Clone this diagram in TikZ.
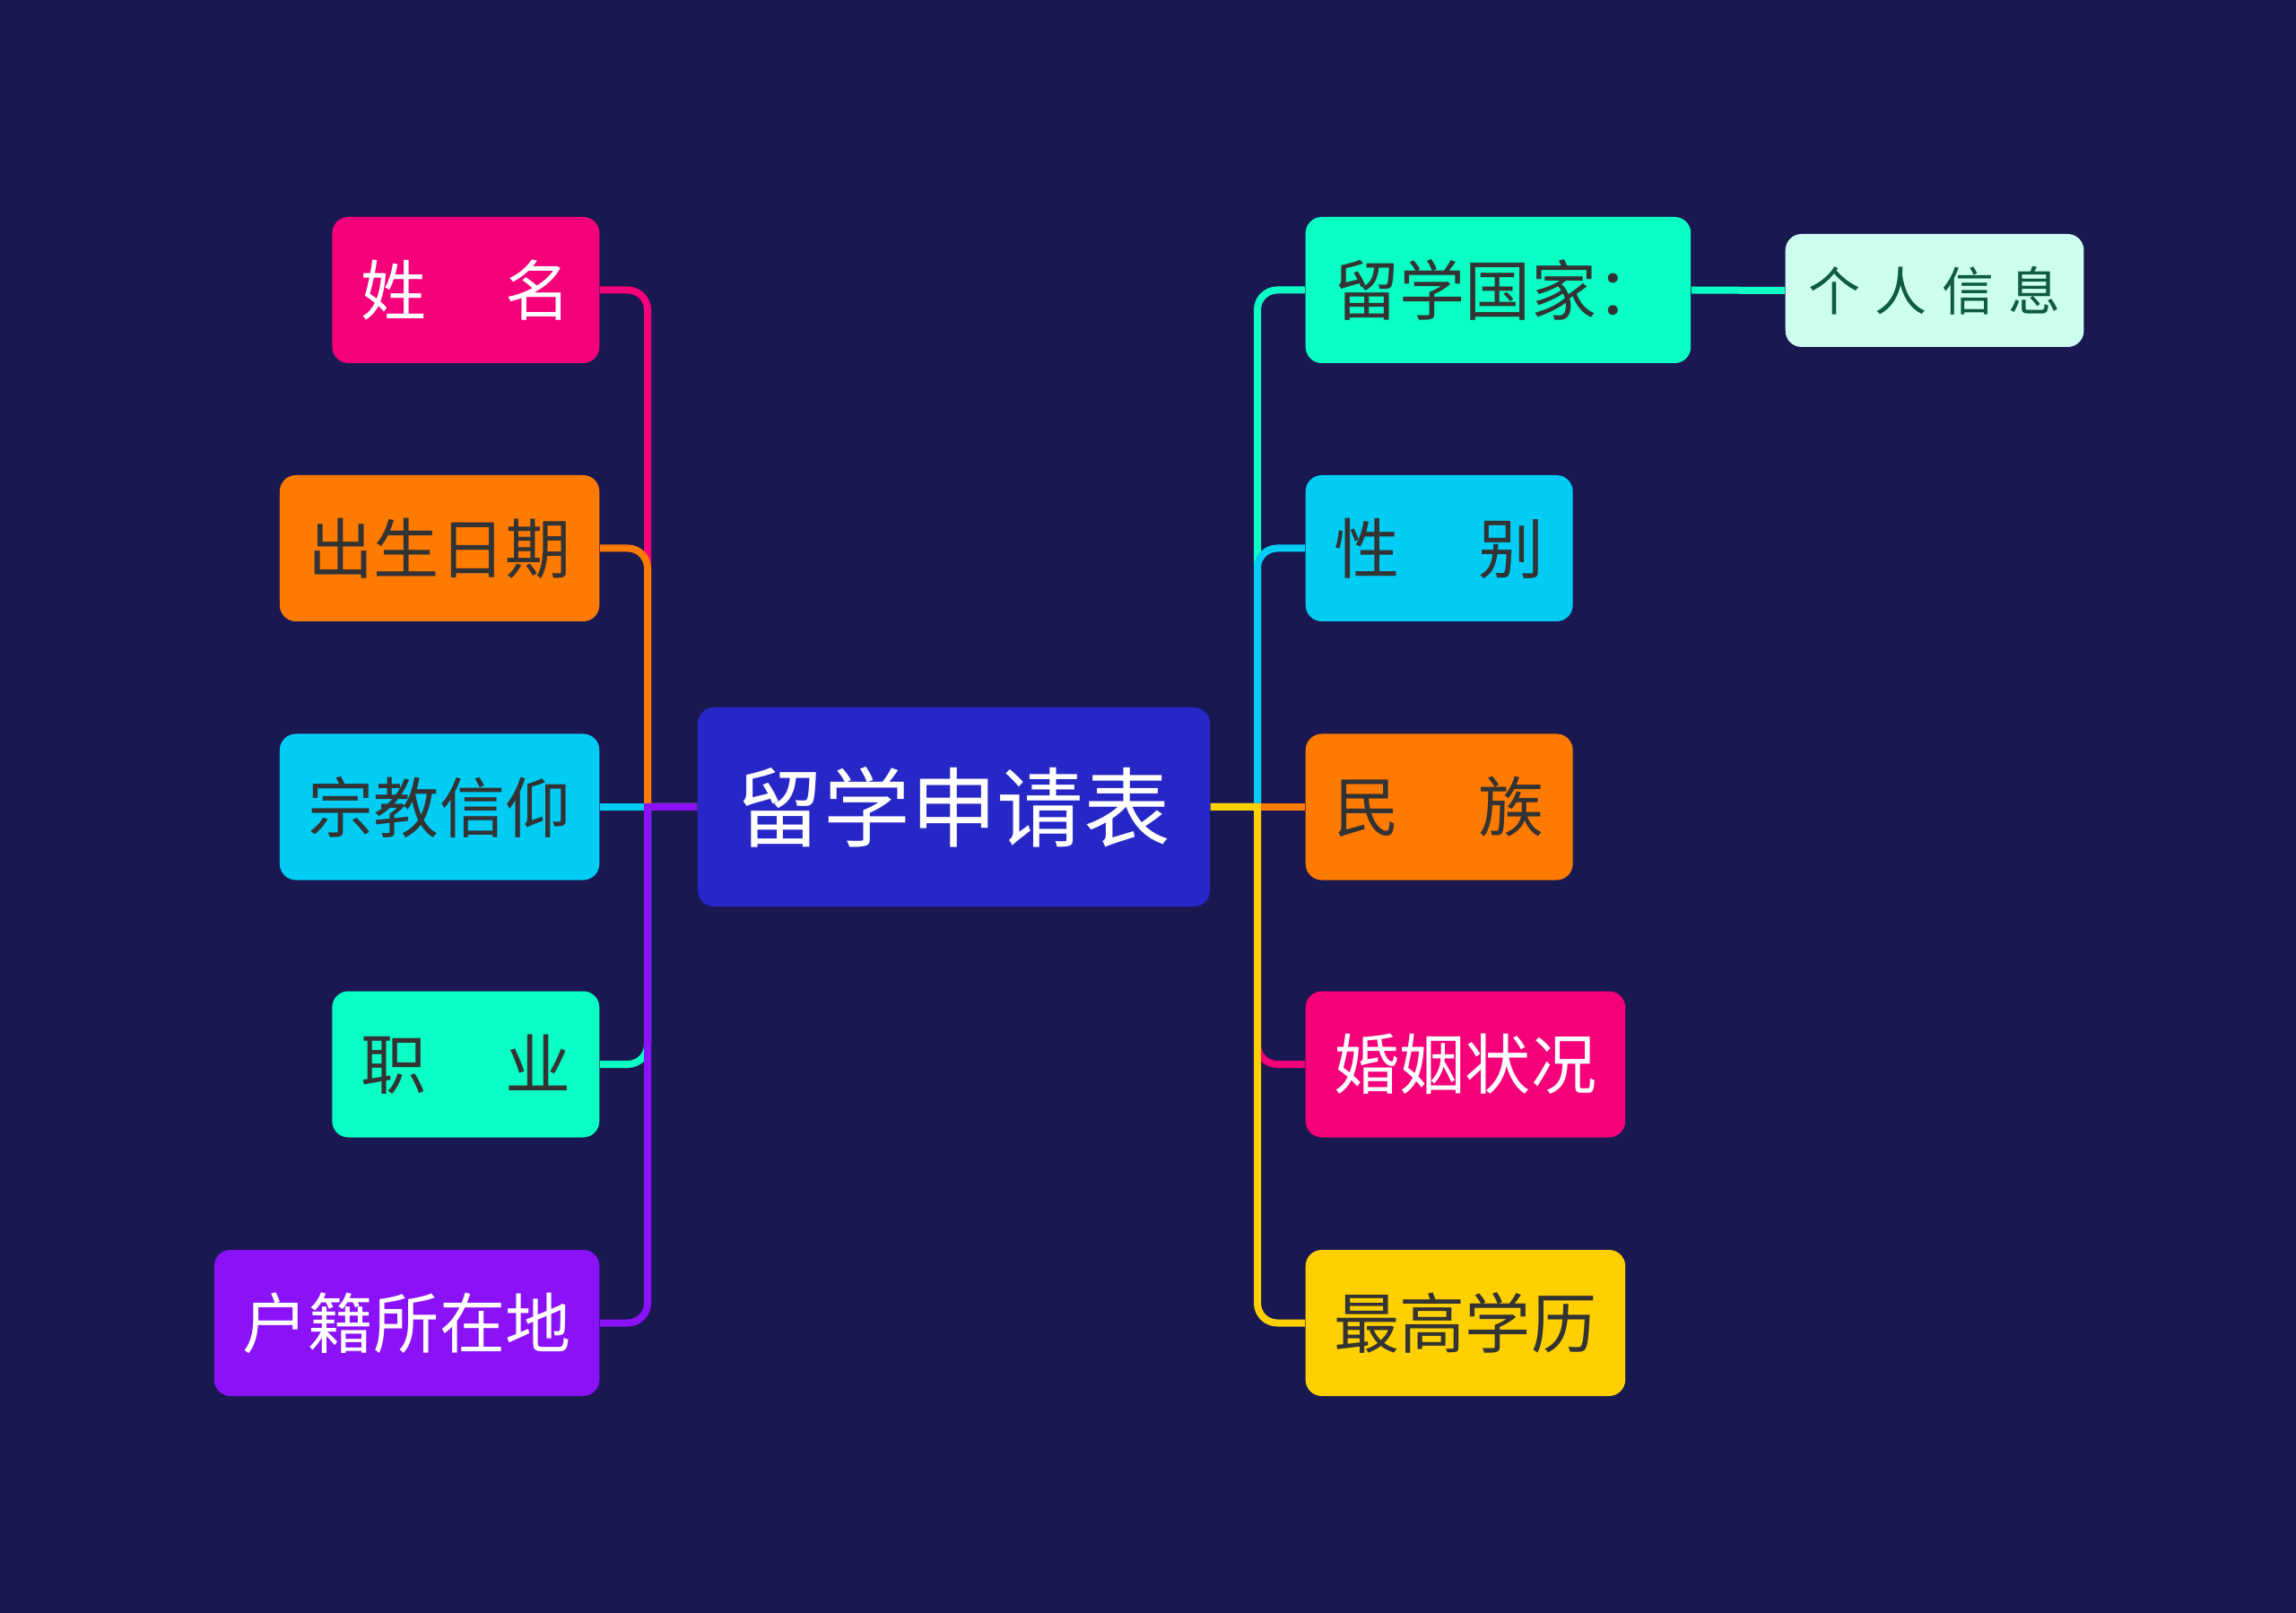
\documentclass[tikz,border=0pt]{standalone}
\usepackage{fontspec}
\newfontfamily\cjk{Noto Sans CJK SC}
\definecolor{bg}{HTML}{1A1851}
\definecolor{rootc}{HTML}{2727C7}
\definecolor{pinkc}{HTML}{F5007A}
\definecolor{orangec}{HTML}{FF7B00}
\definecolor{cyanc}{HTML}{00CCF4}
\definecolor{mintc}{HTML}{0AFFC4}
\definecolor{purplec}{HTML}{8B12F7}
\definecolor{yellowc}{HTML}{FFD000}
\definecolor{palec}{HTML}{CCFFF0}
\definecolor{darktxt}{HTML}{333333}
\definecolor{greentxt}{HTML}{0F5A43}
\begin{document}
\begin{tikzpicture}[every node/.style={rounded corners=0.18cm, minimum height=1.63cm, inner xsep=0.32cm, text=darktxt, font=\cjk\fontsize{20.8pt}{24pt}\selectfont},
  rootbox/.style={fill=rootc, text=white, minimum height=2.22cm, inner xsep=0.44cm, font=\cjk\fontsize{27.5pt}{32pt}\selectfont},
  infobox/.style={fill=palec, text=greentxt, minimum height=1.26cm, inner xsep=0.26cm, font=\cjk\fontsize{16.5pt}{20pt}\selectfont},
  conn/.style={line width=0.8mm, draw=#1}]
\fill[bg] (0,0) rectangle (25.6,-17.99);
\node[rootbox] (root) at (10.635,-9.0) {留学申请表};
\node[fill=pinkc, text=white, anchor=east] (name) at (6.69,-3.235) {姓\hspace{1.2em}名};
\node[fill=orangec, anchor=east] (birth) at (6.69,-6.115) {出生日期};
\node[fill=cyanc, anchor=east] (faith) at (6.69,-9.0) {宗教信仰};
\node[fill=mintc, anchor=east] (job) at (6.69,-11.87) {职\hspace{1.2em}业};
\node[fill=purplec, text=white, anchor=east] (huji) at (6.69,-14.755) {户籍所在地};
\node[fill=mintc, anchor=west] (country) at (14.55,-3.235) {留学国家：};
\node[fill=cyanc, anchor=west] (gender) at (14.55,-6.115) {性\hspace{1.2em}别};
\node[fill=orangec, anchor=west] (ethnic) at (14.55,-9.0) {民\hspace{1.2em}族};
\node[fill=pinkc, text=white, anchor=west] (marital) at (14.55,-11.87) {婚姻状况};
\node[fill=yellowc, anchor=west] (degree) at (14.55,-14.755) {最高学历};
\node[infobox, anchor=west] (info) at (19.9,-3.24) {个\hspace{0.28em}人\hspace{0.28em}信\hspace{0.28em}息};
\coordinate (lj) at (7.22,-9.0);
\coordinate (rj) at (14.02,-9.0);
\draw[conn=pinkc] (root.west) -- (lj) [rounded corners=0.22cm] -- (lj |- name.east) -- (name.east);
\draw[conn=orangec] (root.west) -- (lj) [rounded corners=0.22cm] -- (lj |- birth.east) -- (birth.east);
\draw[conn=cyanc] (root.west) -- (faith.east);
\draw[conn=mintc] (root.west) -- (lj) [rounded corners=0.22cm] -- (lj |- job.east) -- (job.east);
\draw[conn=purplec] (root.west) -- (lj) [rounded corners=0.22cm] -- (lj |- huji.east) -- (huji.east);
\draw[conn=mintc] (root.east) -- (rj) [rounded corners=0.22cm] -- (rj |- country.west) -- (country.west);
\draw[conn=cyanc] (root.east) -- (rj) [rounded corners=0.22cm] -- (rj |- gender.west) -- (gender.west);
\draw[conn=orangec] (root.east) -- (ethnic.west);
\draw[conn=pinkc] (root.east) -- (rj) [rounded corners=0.22cm] -- (rj |- marital.west) -- (marital.west);
\draw[conn=yellowc] (root.east) -- (rj) [rounded corners=0.22cm] -- (rj |- degree.west) -- (degree.west);
\draw[conn=mintc] (country.east) -- (info.west);
\end{tikzpicture}
\end{document}
